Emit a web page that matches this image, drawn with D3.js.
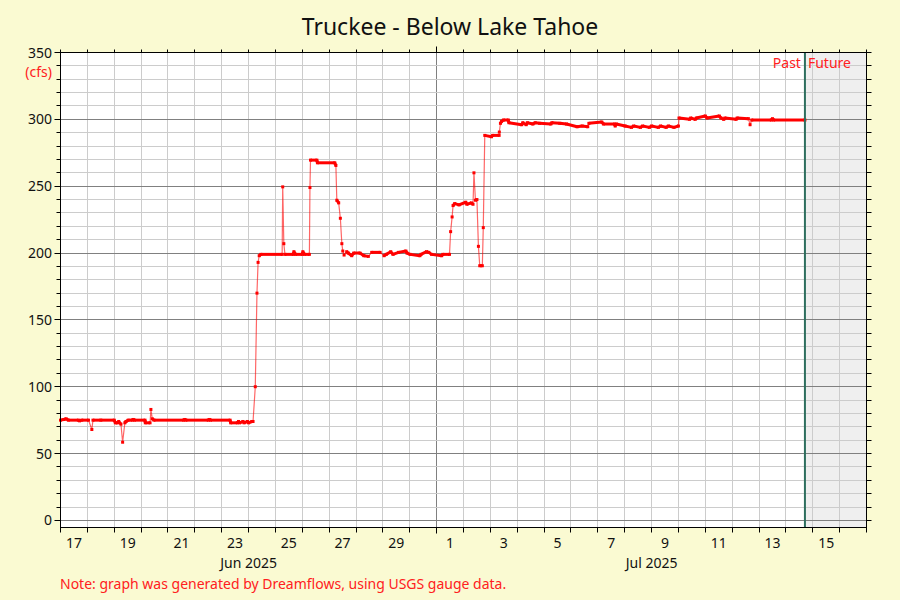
<!DOCTYPE html>
<html><head><meta charset="utf-8">
<script src="https://cdn.jsdelivr.net/npm/d3@7"></script>
<style>
body{margin:0;background:#fafad2;}
svg{display:block;font-family:"Noto Sans",sans-serif;}
</style>
</head><body>
<svg id="chart" width="900" height="600"></svg>
<script>
// ---------------- data ----------------
const chartTitle = "Truckee - Below Lake Tahoe";
const unitLabel = "(cfs)";
const noteText = "Note: graph was generated by Dreamflows, using USGS gauge data.";
const yTickValues = [0, 50, 100, 150, 200, 250, 300, 350];
const xStart = "06-17 00:00";
const xEnd = "07-17 00:00";
const nowTime = "07-14 17:00";
const pastLabel = "Past";
const futureLabel = "Future";
const monthLabels = [
  {label: "Jun 2025", from: "06-17 00:00", to: "07-01 00:00"},
  {label: "Jul 2025", from: "07-01 00:00", to: "07-17 00:00"}
];
// flow readings (time, cfs)
const flow = [
  ["06-17 00:00",75],["06-17 03:00",75.5],["06-17 05:00",76],["06-17 07:00",75],
  ["06-17 16:00",75],["06-17 17:00",74.5],["06-17 19:00",75],
  ["06-18 01:00",75],["06-18 04:00",68],["06-18 05:00",75],["06-18 12:00",75],
  ["06-19 00:00",75],["06-19 01:00",73],["06-19 03:00",73],["06-19 04:00",74],["06-19 06:00",72],
  ["06-19 07:30",58.5],["06-19 09:30",73],["06-19 10:30",74],["06-19 12:30",75],["06-19 16:00",75],["06-19 17:00",75.5],["06-19 18:00",75],
  ["06-20 03:30",75],["06-20 03:45",73],["06-20 08:00",73],["06-20 08:45",83],
  ["06-20 10:00",76],["06-20 11:30",75],
  ["06-21 14:00",75],["06-21 15:00",75.5],["06-21 16:00",75],
  ["06-22 12:00",75],["06-22 13:00",75.5],["06-22 14:00",75],
  ["06-23 07:30",75],["06-23 08:00",73],["06-23 14:00",73],["06-23 15:00",74],
  ["06-23 16:00",73],["06-23 19:00",74],["06-23 20:00",73],["06-23 23:00",74],
  ["06-24 00:00",73],["06-24 03:00",74],["06-24 04:00",74],
  ["06-24 06:00",100],["06-24 07:30",170],["06-24 08:30",193],["06-24 09:30",198],
  ["06-24 11:00",199],["06-25 06:00",199],["06-25 06:30",249.5],["06-25 07:30",207],
  ["06-25 08:30",199],["06-25 16:00",199],["06-25 16:30",201],["06-25 18:00",199],
  ["06-26 00:00",199],["06-26 00:30",201],["06-26 02:00",199],["06-26 06:20",199],
  ["06-26 06:50",249],["06-26 07:20",269.5],["06-26 13:00",269.5],["06-26 13:30",267.5],
  ["06-27 05:00",267.5],["06-27 06:00",265.5],["06-27 06:50",239.5],["06-27 08:30",237.5],
  ["06-27 10:00",226],["06-27 11:20",207],["06-27 12:10",201.5],["06-27 13:20",198.5],
  ["06-27 15:40",201],["06-27 17:00",200],["06-27 20:10",198],["06-27 22:00",200],
  ["06-28 03:30",200],["06-28 07:00",198],["06-28 11:00",197.5],["06-28 14:00",200.5],
  ["06-28 21:30",200.5],["06-29 01:00",198],["06-29 03:00",199],["06-29 07:00",201],
  ["06-29 09:00",199],["06-29 14:00",200.5],["06-29 20:30",201.5],["06-29 21:30",200],
  ["06-30 00:20",199],["06-30 09:00",198],["06-30 10:00",199],["06-30 15:00",201],
  ["06-30 17:00",200.5],["06-30 19:30",199],["07-01 04:30",198],["07-01 05:30",199],
  ["07-01 11:30",199],["07-01 12:30",216],["07-01 13:50",227],["07-01 14:40",235.5],
  ["07-01 16:10",237],["07-01 20:00",236],["07-02 02:00",238],["07-02 03:00",236.5],
  ["07-02 07:00",237.5],["07-02 08:30",236.5],["07-02 09:20",260],["07-02 10:40",239.5],
  ["07-02 12:00",240],["07-02 13:20",205],["07-02 14:30",190.5],["07-02 16:50",190.5],
  ["07-02 17:40",219],["07-02 19:00",288],["07-03 01:00",287],["07-03 02:00",288],
  ["07-03 07:50",288],["07-03 08:00",290.5],["07-03 09:00",297],["07-03 10:00",298.5],
  ["07-03 11:40",299.5],["07-03 16:00",299.5],["07-03 16:30",297.5],["07-04 04:00",296],
  ["07-04 05:00",297.5],["07-04 08:00",296],["07-04 09:00",297.5],["07-04 14:00",296.5],
  ["07-04 16:00",297.5],["07-04 20:00",297],["07-05 06:00",296.5],["07-05 07:00",297.5],
  ["07-05 14:00",297],["07-05 20:00",296.5],["07-06 05:30",294.5],["07-06 10:00",295],
  ["07-06 15:00",294.5],["07-06 16:00",297],["07-07 03:30",298],["07-07 05:00",296.5],
  ["07-07 15:00",296.5],["07-07 15:30",295],["07-07 16:30",296.5],["07-08 00:20",295],
  ["07-08 06:00",294],["07-08 08:00",295],["07-08 14:00",294],["07-08 16:00",295],
  ["07-08 22:00",294],["07-09 00:00",295],["07-09 06:00",294],["07-09 08:00",295],
  ["07-09 13:00",294],["07-09 15:00",295],["07-09 20:00",294],["07-10 00:00",295],
  ["07-10 00:30",301],["07-10 10:00",300],["07-10 11:00",301],["07-10 15:00",300],
  ["07-10 16:00",301],["07-11 00:00",302.5],["07-11 01:30",301],["07-11 12:30",302.5],
  ["07-11 14:00",301],["07-11 16:30",300],["07-11 17:30",301],["07-12 03:30",300],
  ["07-12 04:30",301],["07-12 14:30",300.5],["07-12 16:00",296],["07-12 17:30",299.5],
  ["07-13 11:00",299.5],["07-13 12:00",300.5],["07-13 13:00",299.5],["07-14 17:00",299.5]
];

// ---------------- drawing ----------------
const parse = s => d3.timeParse("%Y-%m-%d %H:%M")("2025-" + s);
const svg = d3.select("#chart");
const L = 60.5, R = 866.5, T = 52.5, B = 527.5;
const x = d3.scaleTime().domain([parse(xStart), parse(xEnd)]).range([L, R]);
const y = d3.scaleLinear().domain([-5.3, 350]).range([B, T]);
const snap = v => Math.round(v - 0.5) + 0.5;

// plot background
svg.append("rect").attr("x", L).attr("y", T).attr("width", R - L).attr("height", B - T).attr("fill", "#fff");
const xNow = x(parse(nowTime));
svg.append("rect").attr("x", xNow).attr("y", T).attr("width", R - xNow).attr("height", B - T).attr("fill", "#efefef");

// grid
const days = d3.timeDay.range(parse(xStart), d3.timeDay.offset(parse(xEnd), 1));
const months = d3.timeMonth.range(parse(xStart), parse(xEnd));
const isMonth = d => d.getDate() === 1;
const grid = svg.append("g");
days.filter(d => x(d) > L + 1 && x(d) < R - 1).forEach(d => {
  grid.append("line").attr("x1", snap(x(d))).attr("x2", snap(x(d))).attr("y1", T).attr("y2", B)
    .attr("stroke", isMonth(d) ? "#808080" : "#cccccc").attr("stroke-width", 1);
});
const yMinor = d3.range(0, 351, 10);
yMinor.filter(v => v < 350).forEach(v => {
  grid.append("line").attr("x1", L).attr("x2", R).attr("y1", snap(y(v))).attr("y2", snap(y(v)))
    .attr("stroke", v % 50 === 0 ? "#808080" : "#cccccc").attr("stroke-width", 1);
});

// data: thin connecting line, thick flat runs, point markers
const pts = flow.map(([t, v]) => [x(parse(t)), y(v)]);
const lineGen = d3.line();
svg.append("path").attr("d", lineGen(pts)).attr("fill", "none")
  .attr("stroke", "#ff0000").attr("stroke-opacity", 0.6).attr("stroke-width", 1.2);
const flatSegs = [];
for (let i = 1; i < pts.length; i++) {
  if (Math.abs(pts[i][1] - pts[i-1][1]) < 3) flatSegs.push([pts[i-1], pts[i]]);
}
svg.append("g").selectAll("path").data(flatSegs).join("path")
  .attr("d", s => lineGen(s)).attr("fill", "none").attr("stroke", "#ff0000").attr("stroke-width", 3);
svg.append("g").selectAll("rect").data(pts).join("rect")
  .attr("x", p => p[0] - 1.5).attr("y", p => p[1] - 1.5).attr("width", 3).attr("height", 3).attr("fill", "#ff0000");

// now line
svg.append("line").attr("x1", xNow).attr("x2", xNow).attr("y1", T).attr("y2", B)
  .attr("stroke", "#2e6e5e").attr("stroke-width", 2);
svg.append("text").attr("x", xNow - 4).attr("y", 68).attr("text-anchor", "end")
  .attr("fill", "#ff2020").attr("font-size", 14).text(pastLabel);
svg.append("text").attr("x", xNow + 3).attr("y", 68).attr("text-anchor", "start")
  .attr("fill", "#ff2020").attr("font-size", 14).text(futureLabel);

// frame
svg.append("rect").attr("x", L).attr("y", T).attr("width", R - L).attr("height", B - T)
  .attr("fill", "none").attr("stroke", "#000").attr("stroke-width", 1);

// ticks
const ax = svg.append("g").attr("stroke", "#000").attr("stroke-width", 1);
yMinor.forEach(v => {
  const yy = snap(y(v)), major = v % 50 === 0;
  ax.append("line").attr("x1", L).attr("x2", L - (major ? 6 : 4)).attr("y1", yy).attr("y2", yy);
  ax.append("line").attr("x1", R).attr("x2", R + 5).attr("y1", yy).attr("y2", yy);
});
days.filter(d => x(d) <= R + 0.5).forEach(d => {
  const xx = snap(x(d)), major = isMonth(d);
  ax.append("line").attr("x1", xx).attr("x2", xx).attr("y1", B).attr("y2", B + (major ? 6 : 5));
  ax.append("line").attr("x1", xx).attr("x2", xx).attr("y1", T).attr("y2", T - (major ? 6 : 3));
});

// y labels
svg.append("g").selectAll("text").data(yTickValues).join("text")
  .attr("x", 52).attr("y", v => y(v) + 5).attr("text-anchor", "end")
  .attr("font-size", 14).attr("fill", "#111").text(v => v);
svg.append("text").attr("x", 52).attr("y", 77).attr("text-anchor", "end")
  .attr("font-size", 14).attr("fill", "#ff2020").text(unitLabel);

// x day labels (odd days, centered at noon)
const dayFmt = d3.timeFormat("%-d");
svg.append("g").selectAll("text")
  .data(days.filter(d => d.getDate() % 2 === 1 && d3.timeHour.offset(d, 12) < parse(xEnd)))
  .join("text")
  .attr("x", d => x(d3.timeHour.offset(d, 12))).attr("y", 548).attr("text-anchor", "middle")
  .attr("font-size", 14).attr("fill", "#111").text(d => dayFmt(d));
svg.append("g").selectAll("text").data(monthLabels).join("text")
  .attr("x", m => (x(parse(m.from)) + x(parse(m.to))) / 2).attr("y", 568).attr("text-anchor", "middle")
  .attr("font-size", 14).attr("fill", "#111").text(m => m.label);

// title & note
svg.append("text").attr("x", 450).attr("y", 35).attr("text-anchor", "middle")
  .attr("font-size", 23).attr("fill", "#111").text(chartTitle);
svg.append("text").attr("x", 60).attr("y", 589).attr("font-size", 14)
  .attr("fill", "#ff2020").text(noteText);
</script>
</body></html>
